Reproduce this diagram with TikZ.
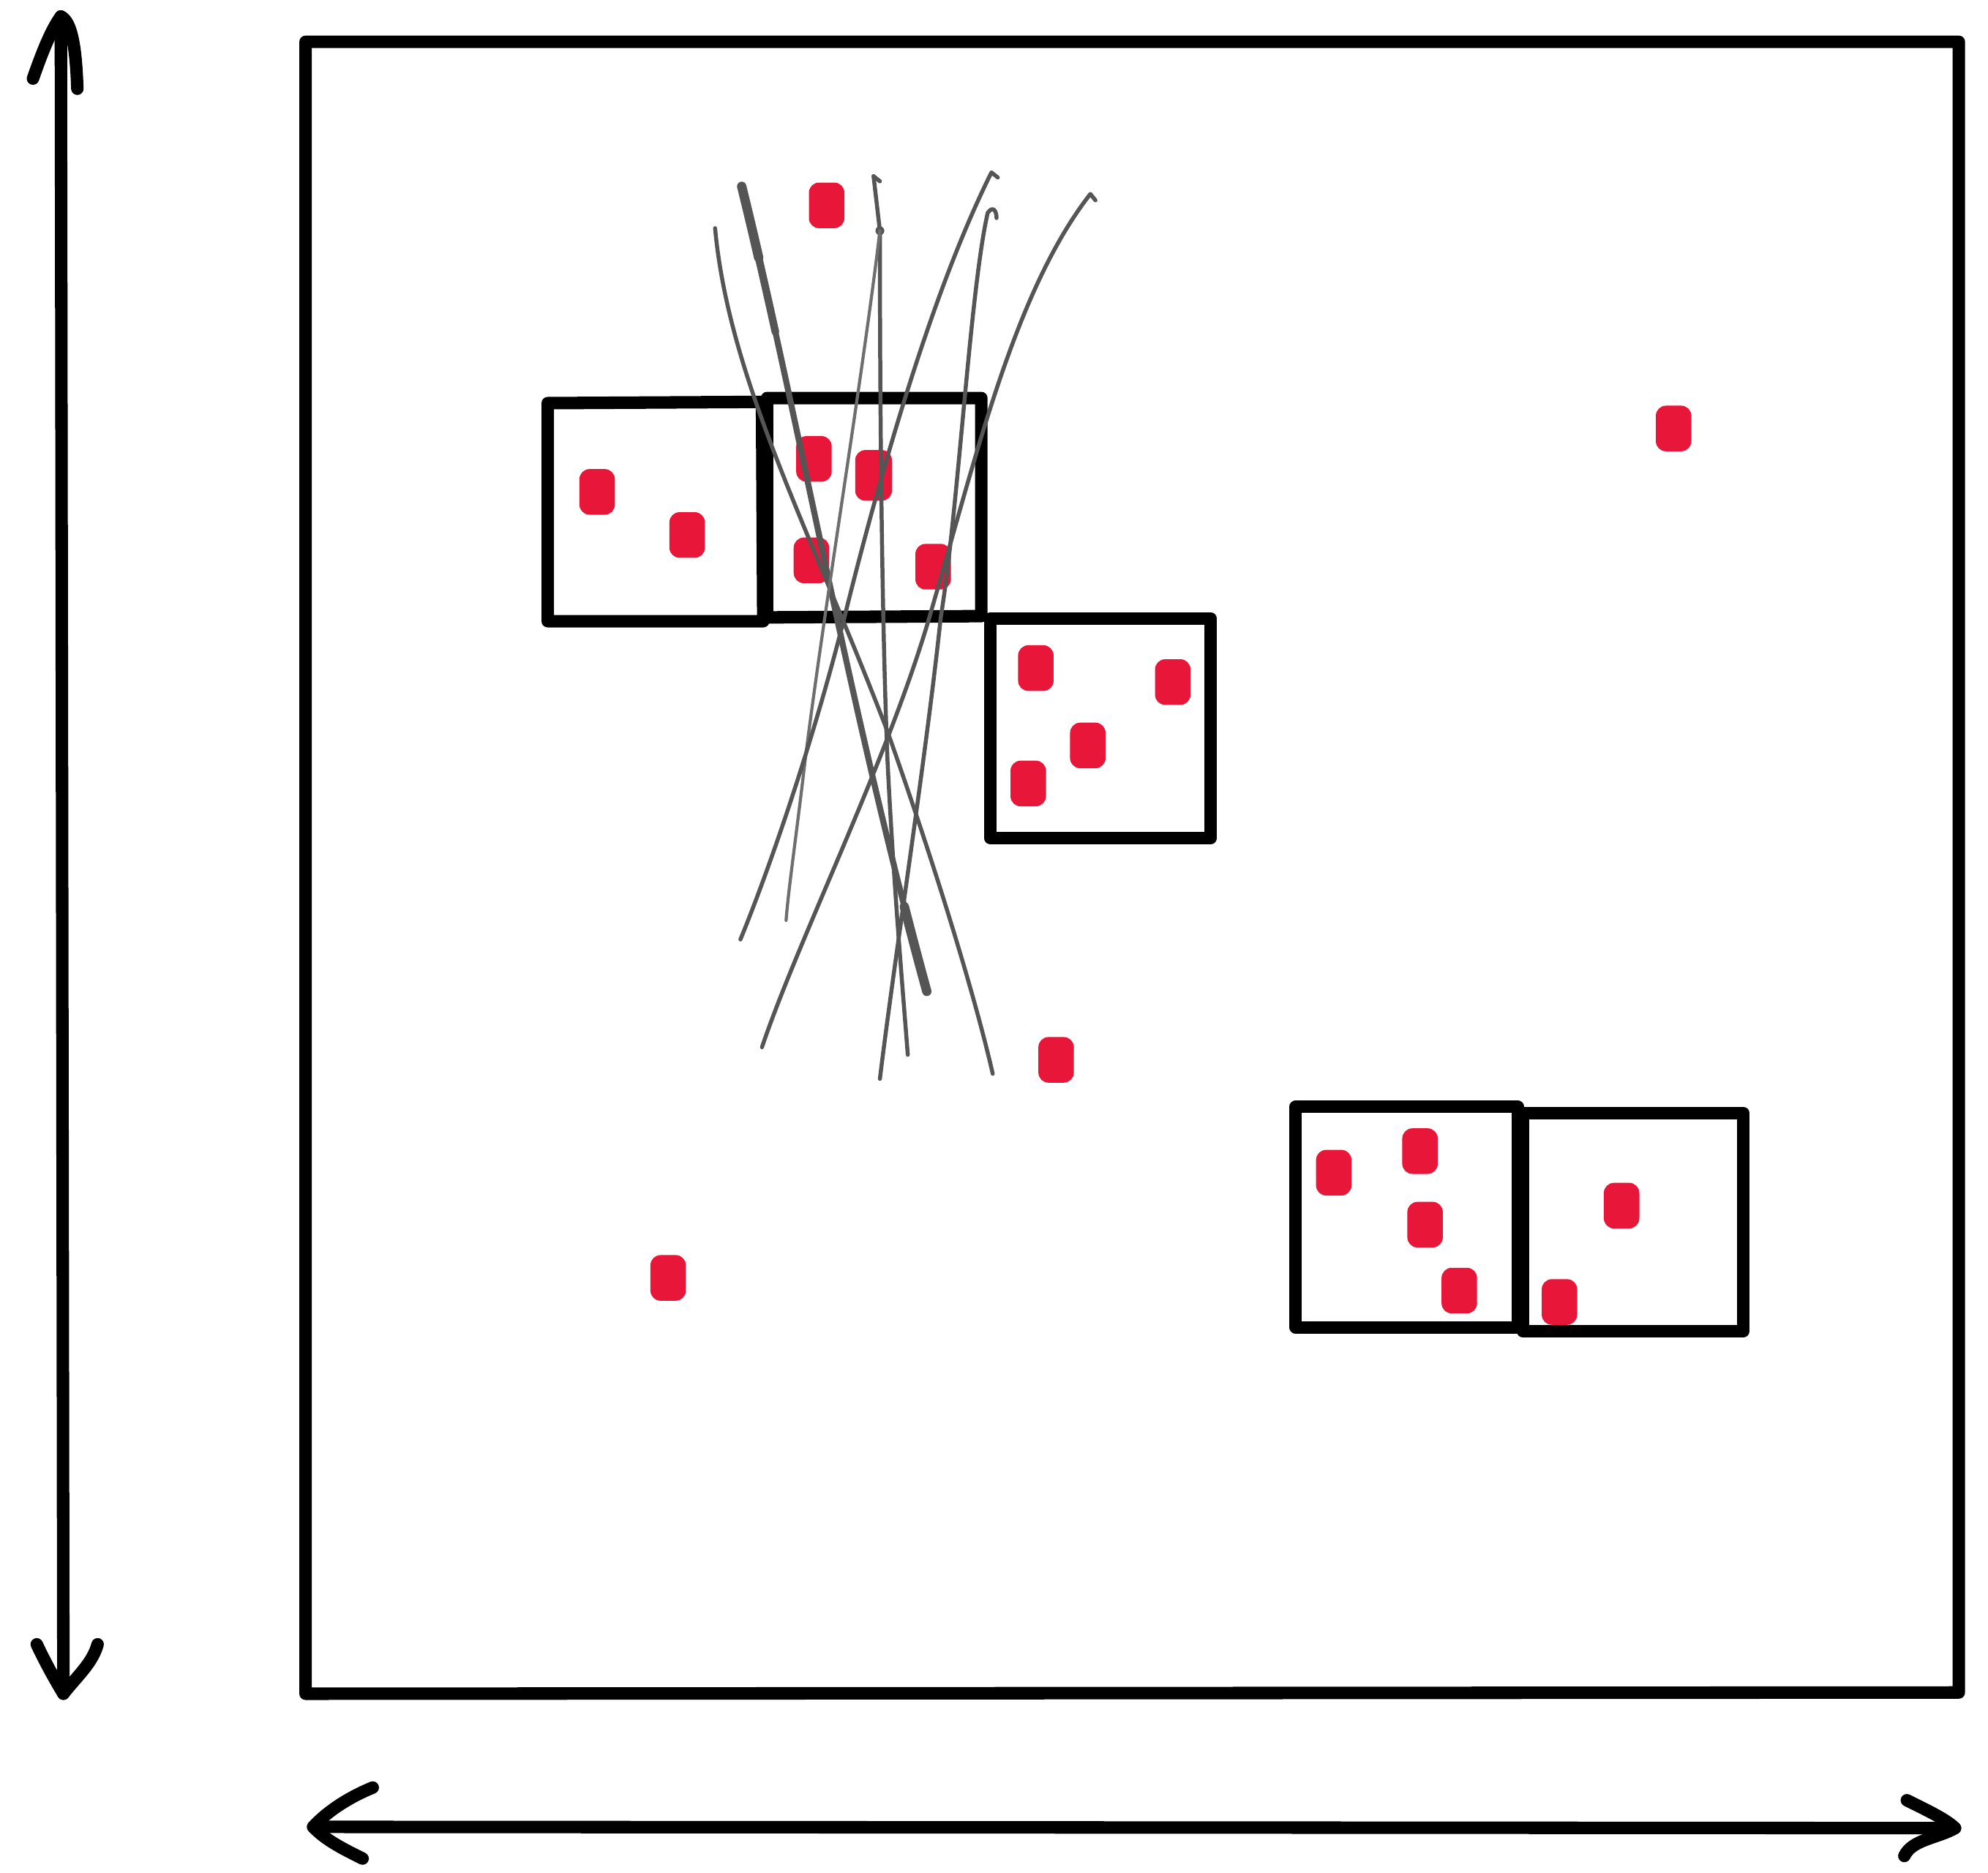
\documentclass[tikz,border=0pt]{standalone}
\definecolor{inkred}{RGB}{232,23,58}
\definecolor{pencil}{RGB}{85,85,85}
\tikzset{
  ink/.style={black, line width=2.8pt, line cap=round, line join=round},
  dot/.style={fill=inkred, draw=none, rounded corners=0.8mm, inner sep=0pt,
              minimum width=2.8mm, minimum height=3.6mm},
  tall dot/.style={dot, minimum width=2.9mm, minimum height=4.0mm},
  strand/.style={pencil, line width=0.9pt, line cap=round, line join=round},
  faint strand/.style={strand, pencil!85, line width=0.7pt},
  heavy strand/.style={strand, line width=1.35pt},
}
\begin{document}
\begin{tikzpicture}[x=0.1mm, y=-0.1mm]
\useasboundingbox (0,0) rectangle (1568,1477);

% outer frame
\draw[ink] (241,33) -- (1545,33) -- (1545,1335) -- (241,1336) -- cycle;

% vertical double arrow
\coordinate (vt) at (48,13);
\coordinate (vb) at (50,1336);
\draw[ink] (vt) -- (vb);
\draw[ink] (26,62) .. controls (33,42) and (40,24) .. (vt)
           .. controls (57,17) and (60,40) .. (61,70);
\draw[ink] (29,1297) .. controls (36,1312) and (44,1326) .. (vb)
           .. controls (60,1323) and (73,1312) .. (77,1297);

% horizontal double arrow
\coordinate (hl) at (247,1441);
\coordinate (hr) at (1542,1442);
\draw[ink] (hl) -- (hr);
\draw[ink] (294,1410) .. controls (272,1419) and (256,1431) .. (hl)
           .. controls (257,1452) and (274,1460) .. (286,1466);
\draw[ink] (1504,1420) .. controls (1520,1428) and (1535,1435) .. (hr)
           .. controls (1528,1450) and (1508,1451) .. (1502,1464);

% cells
\draw[ink] (432,318) -- (601,317) -- (602,490) -- (432,490) -- cycle;
\draw[ink] (605,314) -- (774,314) -- (774,486) -- (605,487) -- cycle;
\draw[ink] (781,488) -- (955,488) -- (955,661) -- (781,661) -- cycle;
\draw[ink] (1022,873) -- (1197,873) -- (1197,1047) -- (1022,1047) -- cycle;
\draw[ink] (1201,878) -- (1375,878) -- (1375,1050) -- (1201,1050) -- cycle;

% red points
\node[dot] (p1)  at (652,162) {};
\node[dot] (p2)  at (1320,338) {};
\node[dot] (p3)  at (471,388) {};
\node[dot] (p4)  at (542,422) {};
\node[dot] (p5)  at (642,362) {};
\node[tall dot] (p6) at (689,375) {};
\node[dot] (p7)  at (640,442) {};
\node[dot] (p8)  at (736,447) {};
\node[dot] (p9)  at (817,527) {};
\node[dot] (p10) at (925,538) {};
\node[dot] (p11) at (858,588) {};
\node[dot] (p12) at (811,618) {};
\node[dot] (p13) at (833,836) {};
\node[dot] (p14) at (1052,925) {};
\node[dot] (p15) at (1120,908) {};
\node[dot] (p16) at (1124,966) {};
\node[dot] (p17) at (1151,1018) {};
\node[dot] (p18) at (1279,951) {};
\node[dot] (p19) at (1230,1027) {};
\node[dot] (p20) at (527,1008) {};

% pencil strands
% thin strand falling to the right
\draw[strand] (564,180) .. controls (575,300) and (640,420) .. (700,577)
              .. controls (740,690) and (770,790) .. (783,847);
% heavy strand, pressed harder at both ends
\draw[heavy strand] (585,147) .. controls (630,330) and (670,560) .. (731,782);
\draw[strand, line width=1.7pt]
  (585,147) .. controls (594,183.6) and (602.8,222.1) .. (611.6,262);
\draw[strand, line width=2.1pt]
  (585,147) .. controls (589.5,165.3) and (594,184.1) .. (598.4,203.3);
\draw[strand, line width=2.1pt]
  (713.3,715.2) .. controls (719,737.5) and (724.9,759.8) .. (731,782);
% forked strand from the top
\draw[strand] (689,139) -- (694,143);
\draw[strand] (689,139) -- (694,182)
              .. controls (694,350) and (696,500) .. (700,600)
              .. controls (705,700) and (712,780) .. (716,832);
\fill[pencil] (694,182) circle[radius=0.35mm];
\draw[faint strand] (694,182) .. controls (680,300) and (650,480) .. (635,600)
              .. controls (628,660) and (622,700) .. (620,726);
% strands falling to the left, hooked at the top
\draw[strand] (787,140) -- (782,136)
              .. controls (740,220) and (700,350) .. (666,487)
              .. controls (640,590) and (605,690) .. (584,741);
\draw[strand] (786,172) .. controls (786,166) and (783,162) .. (779,168)
              .. controls (765,230) and (756,400) .. (742,487)
              .. controls (730,600) and (705,760) .. (694,851);
\draw[strand] (864,158) -- (860,153)
              .. controls (800,230) and (770,360) .. (733,487)
              .. controls (700,600) and (630,740) .. (601,826);
\end{tikzpicture}
\end{document}
